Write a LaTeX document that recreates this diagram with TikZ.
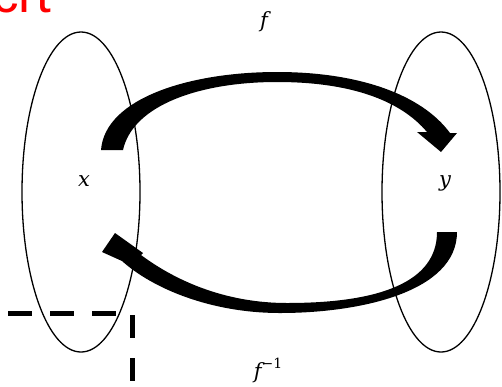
\documentclass[tikz,border=0pt]{standalone}
\usepackage{fontspec}
\newfontfamily\redfont{Liberation Sans}
\newfontfamily\labfont{DejaVu Serif}
\usetikzlibrary{shapes.geometric}
\tikzset{
  setoval/.style={draw, ellipse, line width=1.3pt, minimum width=118pt, minimum height=320pt, inner sep=0pt},
  lab/.style={font=\labfont\itshape\fontsize{21}{24}\selectfont, inner sep=0pt, anchor=base},
  bigarrow/.style={fill=black},
  guide/.style={line width=5pt, dash pattern=on 24pt off 18pt},
}
\begin{document}
\begin{tikzpicture}[x=1pt,y=-1pt]
\clip (0,0) rectangle (502,386);
\fill[white] (0,0) rectangle (502,386);
% red partial title
\node[anchor=base west, text=red, font=\redfont\fontsize{53}{53}\selectfont, inner sep=0pt] (title) at (-8,12) {crt};
% sets
\node[setoval] (X) at (81,192) {};
\node[setoval] (Y) at (441,192) {};
% f arrow (top)
\fill[bigarrow] (101,150) .. controls (105,98) and (190,72) .. (277,72)
  .. controls (360,72) and (422,95) .. (450,133)
  -- (457,133) -- (441,152) -- (417,132) -- (427,132)
  .. controls (400,100) and (350,82) .. (277,82)
  .. controls (200,82) and (133,105) .. (123,150) -- cycle;
% f^{-1} arrow (bottom)
\fill[bigarrow] (457,232) .. controls (457,292) and (360,313) .. (280,313)
  .. controls (210,313) and (152,288) .. (122,261)
  -- (102,252) -- (115,233) -- (143,253) -- (141,255)
  .. controls (180,284) and (230,303) .. (287,303)
  .. controls (380,303) and (437,282) .. (437,232) -- cycle;
% labels
\node[lab] (xl) at (84,186) {x};
\node[lab] (yl) at (445,186) {y};
\node[lab] (fl) at (264,27) {f};
\node[lab] (finv) at (268,378) {f\raisebox{10pt}{\upshape\fontsize{14}{16}\selectfont −1}};
% dashed guides
\coordinate (h1) at (8,313);
\coordinate (h2) at (118,313);
\coordinate (v1) at (132.5,315);
\coordinate (v2) at (132.5,400);
\draw[guide] (h1) -- (h2);
\draw[guide, dash pattern=on 23pt off 20pt] (v1) -- (v2);
\end{tikzpicture}
\end{document}
